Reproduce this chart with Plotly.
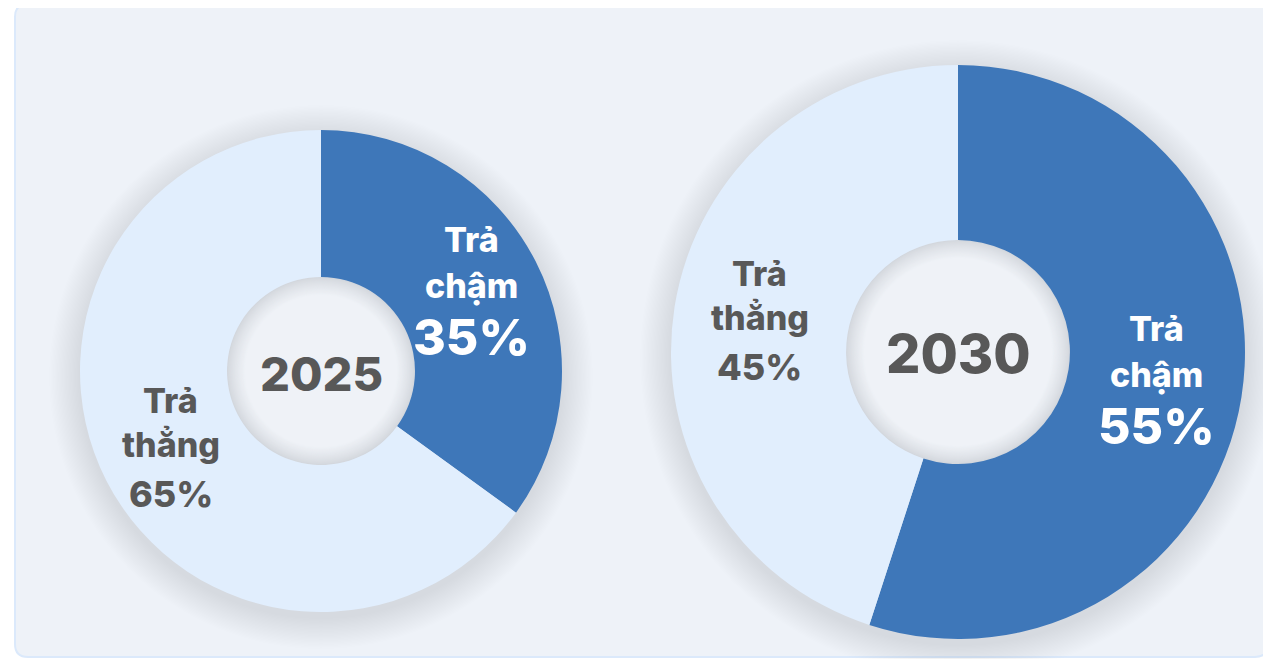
import math
import plotly.graph_objects as go

# page offset (default body margin) so reference pixel coordinates map 1:1
OFF = 8
W, H = 1271 - OFF, 659 - OFF

# ---------------- data ----------------
years = ["2025", "2030"]
categories = ["Trả chậm", "Trả thẳng"]
values_2025 = [35, 65]
values_2030 = [55, 45]
series = [values_2025, values_2030]

# ---------------- style ----------------
slice_colors = ["#3e77b9", "#e1eefd"]
label_colors = ["#ffffff", "#585858"]
text_gray = "#585858"
card_fill = "#eef2f8"
card_line = "#dbe9fb"
FONT = "Inter"
WEIGHT = 800

# donut geometry in reference pixels (layout)
geom = [dict(cx=321, cy=371, r=241, year_size=47),
        dict(cx=958, cy=352, r=287, year_size=54)]
HOLE = 0.39
LABEL_R = 0.70


def px_x(x):
    return (x - OFF) / W


def px_y(y):
    return 1 - (y - OFF) / H


fig = go.Figure()
shapes = []
annotations = []

# card background with rounded corners
cx0, cy0, cx1, cy1, rad = 15, 4, 1268, 657, 13


def P(x, y):
    return f"{px_x(x):.5f},{px_y(y):.5f}"


card_path = (f"M {P(cx0 + rad, cy0)} L {P(cx1 - rad, cy0)} Q {P(cx1, cy0)} {P(cx1, cy0 + rad)} "
             f"L {P(cx1, cy1 - rad)} Q {P(cx1, cy1)} {P(cx1 - rad, cy1)} "
             f"L {P(cx0 + rad, cy1)} Q {P(cx0, cy1)} {P(cx0, cy1 - rad)} "
             f"L {P(cx0, cy0 + rad)} Q {P(cx0, cy0)} {P(cx0 + rad, cy0)} Z")
shapes.append(dict(type="path", xref="paper", yref="paper", path=card_path,
                   fillcolor=card_fill, line=dict(color=card_line, width=2), layer="below"))


def circle(cx, cy, r, fill):
    return dict(type="circle", xref="paper", yref="paper",
                x0=px_x(cx - r), x1=px_x(cx + r), y0=px_y(cy + r), y1=px_y(cy - r),
                fillcolor=fill, line=dict(width=0), layer="below")


def mix(c1, c2, t):
    a = [int(c1[i:i + 2], 16) for i in (1, 3, 5)]
    b = [int(c2[i:i + 2], 16) for i in (1, 3, 5)]
    return "#" + "".join(f"{round(a[k] + (b[k] - a[k]) * t):02x}" for k in range(3))


for year, vals, g in zip(years, series, geom):
    cx, cy, r = g["cx"], g["cy"], g["r"]
    # soft drop shadow
    n = 24
    for k in range(n, 0, -1):
        shapes.append(circle(cx, cy + 6, r + k * 1.3, "rgba(30,40,60,0.0058)"))
    # hole with inner shading
    rh = r * HOLE
    m = 18
    for k in range(m + 1):
        t = (k / m) ** 0.8
        shapes.append(circle(cx, cy, rh - k, mix("#d3d7dd", "#eff2f7", t)))

    fig.add_trace(go.Pie(
        labels=categories, values=vals, sort=False, direction="clockwise", rotation=0,
        hole=HOLE, textinfo="none", hoverinfo="label+percent", showlegend=False,
        marker=dict(colors=slice_colors, line=dict(width=0)),
        domain=dict(x=[px_x(cx - r), px_x(cx + r)], y=[px_y(cy + r), px_y(cy - r)]),
    ))

    # center year
    annotations.append(dict(x=px_x(cx), y=px_y(cy + 2), xref="paper", yref="paper",
                            text=year, showarrow=False, xanchor="center", yanchor="middle",
                            font=dict(family=FONT, size=g["year_size"], color=text_gray, weight=WEIGHT)))

    # slice labels placed at mid-angle of each slice
    total = sum(vals)
    cum = 0
    for i, (cat, v) in enumerate(zip(categories, vals)):
        mid = (cum + v / 2) / total * 2 * math.pi
        cum += v
        lx = cx + LABEL_R * r * math.sin(mid)
        ly = cy - LABEL_R * r * math.cos(mid)
        w1, w2 = cat.split(" ")
        if i == 0:
            lines = [(w1, -55, 34), (w2, -9, 34), (f"{v}%", 43, 50)]
        else:
            lines = [(w1, -47, 34), (w2, -3, 34), (f"{v}%", 46, 36)]
        for txt, off, size in lines:
            annotations.append(dict(x=px_x(lx), y=px_y(ly + off), xref="paper", yref="paper",
                                    text=txt, showarrow=False, xanchor="center", yanchor="middle",
                                    font=dict(family=FONT, size=size, color=label_colors[i], weight=WEIGHT)))

fig.update_layout(
    width=W, height=H, margin=dict(l=0, r=0, t=0, b=0),
    paper_bgcolor="#ffffff", plot_bgcolor="#ffffff",
    shapes=shapes, annotations=annotations,
)

fig.write_html("out.html")
